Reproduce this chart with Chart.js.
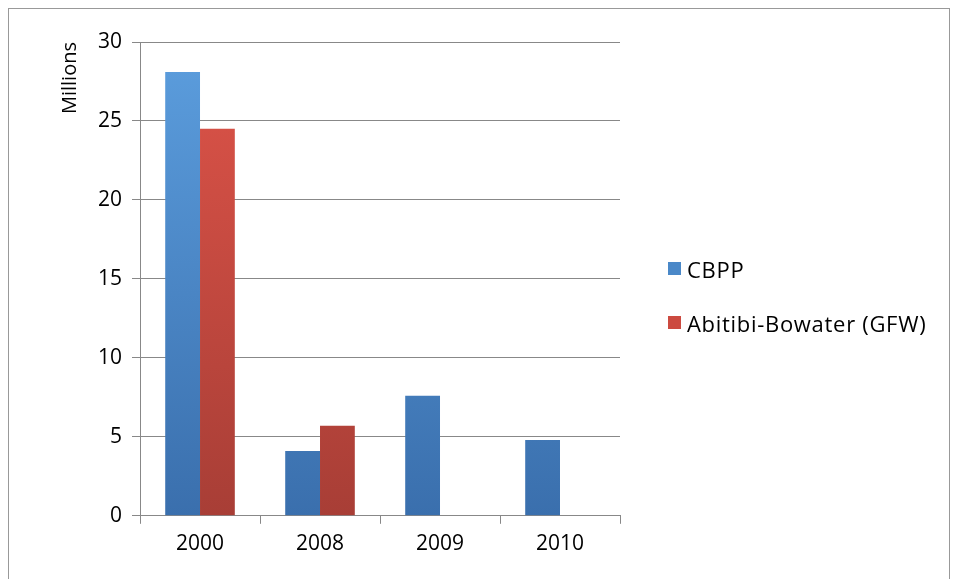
<!DOCTYPE html>
<html><head><meta charset="utf-8">
<script src="https://cdn.jsdelivr.net/npm/chart.js@4"></script>
<style>
body{margin:0;background:#fff;font-family:"Open Sans",sans-serif}
#wrap{position:relative;width:959px;height:579px}
#frame{position:absolute;left:8px;top:8px;width:942px;height:580px;border:1px solid #999;box-sizing:border-box}
#legend{position:absolute;left:668px;top:254px;font-size:22px;letter-spacing:0.7px;color:#000}
#legend div{height:54px;display:flex;align-items:flex-start}
#legend span.b{display:inline-block;width:13px;height:13px;margin:8px 6px 0 0}
</style></head>
<body><div id="wrap"><div id="frame"></div><canvas id="c" width="959" height="579"></canvas><div id="legend"></div></div>
<script>
const years = ['2000', '2008', '2009', '2010'];
const cbpp = [28.1, 4.1, 7.6, 4.8];
const abw = [24.5, 5.7, null, null];
const seriesNames = ['CBPP', 'Abitibi-Bowater (GFW)'];

function grad(top, bottom) {
    return ctx => {
        const ca = ctx.chart.chartArea;
        if (!ca) return bottom;
        const g = ctx.chart.ctx.createLinearGradient(0, ca.top, 0, ca.bottom);
        g.addColorStop(0, top);
        g.addColorStop(1, bottom);
        return g;
    };
}

const chart = new Chart(document.getElementById('c'), {
    type: 'bar',
    data: {
        labels: years,
        datasets: [
            { label: seriesNames[0], data: cbpp, backgroundColor: grad('#5C9EDE', '#3A6FAD') },
            { label: seriesNames[1], data: abw, backgroundColor: grad('#DE5449', '#A83E36') }
        ]
    },
    options: {
        responsive: false,
        animation: false,
        categoryPercentage: 0.58,
        barPercentage: 1,
        layout: { padding: { left: 58, top: 42, right: 339, bottom: 14 } },
        scales: {
            y: {
                min: 0, max: 30,
                ticks: { stepSize: 5, color: '#000', font: { size: 21, family: 'Open Sans' }, padding: 10 },
                grid: { color: '#888', tickLength: 8 },
                border: { color: '#888' },
                title: { display: true, text: 'Millions', align: 'end', color: '#000', font: { size: 20, family: 'Open Sans' }, padding: { top: 0, bottom: 6 } }
            },
            x: {
                ticks: { color: '#000', font: { size: 21, family: 'Open Sans' }, padding: 8 },
                grid: { offset: true, drawOnChartArea: false, color: '#888', tickLength: 8 },
                border: { color: '#888' }
            }
        },
        plugins: { legend: { display: false }, tooltip: { enabled: false } }
    }
});

const colors = ['#4A88C8', '#CC4A40'];
document.getElementById('legend').innerHTML = seriesNames.map((n, i) =>
    `<div><span class="b" style="background:${colors[i]}"></span>${n}</div>`).join('');
</script>
</body></html>
